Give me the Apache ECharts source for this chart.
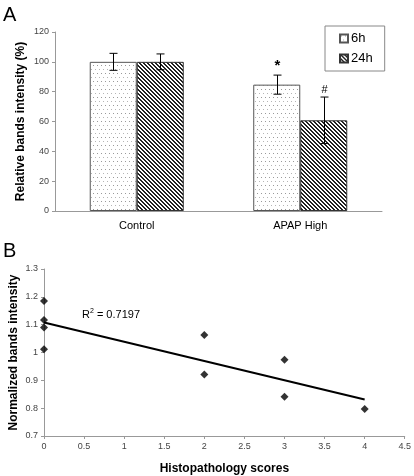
<!DOCTYPE html>
<html>
<head>
<meta charset="utf-8">
<style>html,body{margin:0;padding:0;background:#fff}#c{width:414px;height:476px}</style>
<script src="https://cdn.jsdelivr.net/npm/echarts@6/dist/echarts.min.js"></script>
</head>
<body>
<div id="c"></div>
<script>
// Panel A data
const categoriesA = ['Control', 'APAP High'];
const seriesNamesA = ['6h', '24h'];
const values6h = [100, 84.7];
const errors6h = [5.7, 6.4];
const values24h = [100, 60.8];
const errors24h = [5.3, 15.6];
const marks6h = ['', '*'];
const marks24h = ['', '#'];
const yTicksA = {min: 0, max: 120, interval: 20};

// Panel B data
const scoresB = [0, 0, 0, 0, 2, 2, 3, 3, 4];
const intensityB = [1.185, 1.117, 1.090, 1.012, 1.063, 0.921, 0.974, 0.841, 0.797];
const r2Text = '0.7197';
const yTicksB = {min: 0.7, max: 1.3, interval: 0.1};
const xTicksB = {min: 0, max: 4.5, interval: 0.5};

// linear regression (trendline) from data
function regression(xs, ys) {
  const n = xs.length;
  const mx = xs.reduce((a, b) => a + b, 0) / n;
  const my = ys.reduce((a, b) => a + b, 0) / n;
  let sxy = 0, sxx = 0;
  for (let i = 0; i < n; i++) { sxy += (xs[i] - mx) * (ys[i] - my); sxx += (xs[i] - mx) * (xs[i] - mx); }
  const b = sxy / sxx;
  return {slope: b, intercept: my - b * mx};
}
const reg = regression(scoresB, intensityB);
const xMinData = Math.min(...scoresB), xMaxData = Math.max(...scoresB);
const trend = [[xMinData, reg.intercept + reg.slope * xMinData], [xMaxData, reg.intercept + reg.slope * xMaxData]];

// patterns
function makeDots() {
  const c = document.createElement('canvas'); c.width = 4; c.height = 8;
  const g = c.getContext('2d'); g.fillStyle = '#fff'; g.fillRect(0, 0, 4, 8);
  g.fillStyle = '#9a9a9a'; g.fillRect(1, 1, 1, 1); g.fillStyle = '#b5b5b5'; g.fillRect(3, 5, 1, 1);
  return c;
}
function makeHatch() {
  const c = document.createElement('canvas'); c.width = 4; c.height = 4;
  const g = c.getContext('2d'); g.fillStyle = '#fff'; g.fillRect(0, 0, 4, 4);
  g.fillStyle = '#222';
  for (let y = 0; y < 4; y++) for (let x = 0; x < 4; x++) if (((x - y) % 4 + 4) % 4 < 2) g.fillRect(x, y, 1, 1);
  return c;
}
const dotPattern = {image: makeDots(), repeat: 'repeat'};
const hatchPattern = {image: makeHatch(), repeat: 'repeat'};

const FONT = 'Liberation Sans, Arial, sans-serif';
const BAR_GAP_CAT = 0.425;

function errorSeries(name, vals, errs, marks, side) {
  return {
    type: 'custom', name: name + '_err', xAxisIndex: 0, yAxisIndex: 0, z: 5,
    data: vals.map((v, i) => [i, v, errs[i], marks[i]]),
    renderItem: function (params, api) {
      const i = api.value(0), v = api.value(1), e = api.value(2);
      const band = api.size([1, 0])[0];
      const bw = band * (1 - BAR_GAP_CAT) / 2;
      const c = api.coord([i, v]);
      const x = Math.round(c[0] + side * bw / 2) + 0.5;
      const top = api.coord([i, v + e])[1];
      const bot = api.coord([i, v - e])[1];
      const st = {stroke: '#000', lineWidth: 1};
      const children = [
        {type: 'line', shape: {x1: x, y1: top, x2: x, y2: bot}, style: st},
        {type: 'line', shape: {x1: x - 4, y1: top, x2: x + 4, y2: top}, style: st},
        {type: 'line', shape: {x1: x - 4, y1: bot, x2: x + 4, y2: bot}, style: st}
      ];
      const m = marks[i];
      if (m) children.push({type: 'text', style: {text: m, x: x, y: top - 2, align: 'center', verticalAlign: 'bottom', font: (m === '*' ? 'bold 15px ' : '11px ') + FONT, fill: '#000'}});
      return {type: 'group', children: children};
    }
  };
}

const nameStyle = {fontSize: 12, fontWeight: 'bold', color: '#000', fontFamily: FONT};
const chart = echarts.init(document.getElementById('c'), null, {renderer: 'canvas'});
chart.setOption({
  animation: false,
  textStyle: {fontFamily: FONT},
  graphic: [
    {type: 'text', left: 3, top: 5, style: {text: 'A', font: '20px ' + FONT, fill: '#000'}},
    {type: 'text', left: 3, top: 241, style: {text: 'B', font: '20px ' + FONT, fill: '#000'}},
    {type: 'text', left: 82, top: 308, style: {text: 'R{s|2} = ' + r2Text, font: '11px ' + FONT, fill: '#000',
      rich: {s: {fontSize: 7, verticalAlign: 'top', padding: [0, 0, 6, 0], fontFamily: FONT}}}}
  ],
  legend: {
    show: true, data: seriesNamesA, orient: 'vertical', left: 325, top: 26,
    borderColor: '#888', borderWidth: 1, padding: [6, 12, 6, 14], itemGap: 7,
    itemWidth: 8, itemHeight: 8, icon: 'rect',
    textStyle: {fontSize: 13, fontFamily: FONT, color: '#000', padding: [0, 0, 0, -2]}
  },
  grid: [
    {left: 55, top: 32, width: 327, height: 179, containLabel: false},
    {left: 44, top: 269, width: 362, height: 170, containLabel: false}
  ],
  xAxis: [
    {type: 'category', gridIndex: 0, data: categoriesA,
      axisLine: {lineStyle: {color: '#999'}}, axisTick: {lineStyle: {color: '#999'}, length: 3},
      axisLabel: {fontSize: 11, color: '#000', margin: 9, fontFamily: FONT}},
    {type: 'value', gridIndex: 1, min: xTicksB.min, max: xTicksB.max, interval: xTicksB.interval,
      splitLine: {show: false},
      axisLine: {lineStyle: {color: '#999'}}, axisTick: {show: true, lineStyle: {color: '#999'}, length: 3},
      axisLabel: {fontSize: 9, color: '#444', margin: 6, fontFamily: FONT},
      name: 'Histopathology scores', nameLocation: 'middle', nameGap: 27, nameMoveOverlap: false,
      nameTextStyle: nameStyle}
  ],
  yAxis: [
    {type: 'value', gridIndex: 0, min: yTicksA.min, max: yTicksA.max, interval: yTicksA.interval,
      splitLine: {show: false},
      axisLine: {show: true, lineStyle: {color: '#999'}}, axisTick: {show: true, lineStyle: {color: '#999'}, length: 3},
      axisLabel: {fontSize: 9, color: '#444', margin: 6, fontFamily: FONT},
      name: 'Relative bands intensity (%)', nameLocation: 'middle', nameGap: 28, nameMoveOverlap: false,
      nameTextStyle: nameStyle},
    {type: 'value', gridIndex: 1, min: yTicksB.min, max: yTicksB.max, interval: yTicksB.interval,
      splitLine: {show: false},
      axisLine: {show: true, lineStyle: {color: '#999'}}, axisTick: {show: true, lineStyle: {color: '#999'}, length: 3},
      axisLabel: {fontSize: 9, color: '#444', margin: 6, fontFamily: FONT},
      name: 'Normalized bands intensity', nameLocation: 'middle', nameGap: 24, nameMoveOverlap: false,
      nameTextStyle: nameStyle}
  ],
  series: [
    {type: 'bar', name: seriesNamesA[0], xAxisIndex: 0, yAxisIndex: 0, data: values6h,
      barGap: '0%', barCategoryGap: (BAR_GAP_CAT * 100) + '%',
      itemStyle: {color: dotPattern, borderColor: '#555', borderWidth: 1}},
    {type: 'bar', name: seriesNamesA[1], xAxisIndex: 0, yAxisIndex: 0, data: values24h,
      barGap: '0%', barCategoryGap: (BAR_GAP_CAT * 100) + '%',
      itemStyle: {color: hatchPattern, borderColor: '#333', borderWidth: 1}},
    errorSeries(seriesNamesA[0], values6h, errors6h, marks6h, -1),
    errorSeries(seriesNamesA[1], values24h, errors24h, marks24h, 1),
    {type: 'scatter', xAxisIndex: 1, yAxisIndex: 1, symbol: 'diamond', symbolSize: 8,
      itemStyle: {color: '#000'}, z: 4,
      data: scoresB.map((x, i) => [x, intensityB[i]])},
    {type: 'line', xAxisIndex: 1, yAxisIndex: 1, data: trend, symbol: 'none',
      lineStyle: {color: '#000', width: 2}}
  ]
});
</script>
</body>
</html>
